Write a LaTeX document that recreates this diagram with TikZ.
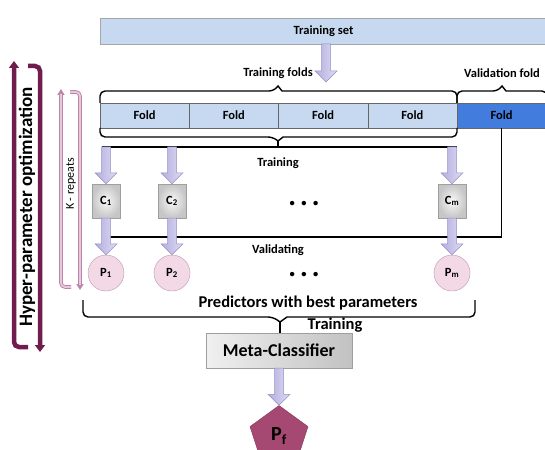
\documentclass[tikz,border=0pt]{standalone}
\usepackage{fontspec}
\setmainfont{Carlito}
\usetikzlibrary{calc,shapes.geometric,arrows.meta}

\definecolor{setblue}{RGB}{198,217,241}
\definecolor{valblue}{RGB}{66,125,222}
\definecolor{arrowL}{RGB}{180,174,222}
\definecolor{arrowR}{RGB}{222,219,244}
\definecolor{arrowD}{RGB}{150,144,196}
\definecolor{predpink}{RGB}{243,216,230}
\definecolor{predline}{RGB}{190,150,175}
\definecolor{plum}{RGB}{112,28,78}
\definecolor{finalplum}{RGB}{165,72,114}
\definecolor{kdark}{RGB}{185,135,168}
\definecolor{klight}{RGB}{234,198,222}

\tikzset{
  txt/.style={font=\fontsize{12.5}{14}\selectfont\bfseries},
  bigtxt/.style={font=\fontsize{16.5}{18}\selectfont\bfseries},
  dotstxt/.style={font=\fontsize{10.5}{12}\selectfont\bfseries},
  setbox/.style={draw=gray!70, fill=setblue, inner sep=0pt, txt},
  foldbox/.style={draw=gray!80!black, fill=setblue, minimum width=89.25pt,
    minimum height=25pt, inner sep=0pt, txt},
  cbox/.style={draw=gray!75, inner color=gray!5, outer color=gray!45,
    minimum width=28pt, minimum height=34pt, inner sep=0pt, txt},
  pcirc/.style={circle, draw=predline, fill=predpink, minimum size=36pt,
    inner sep=0pt, txt},
  bracket/.style={draw=black, line width=1.4pt},
  flowline/.style={draw=black, line width=1.2pt},
  fatarrow/.style={draw=arrowD, line width=0.5pt, left color=arrowL, right color=arrowR},
  hyperline/.style={draw=plum, line width=4.5pt, rounded corners=5pt},
  kouter/.style={draw=kdark, line width=3.6pt, rounded corners=4pt},
  kinner/.style={draw=klight, line width=1.8pt, rounded corners=4pt},
}

% thick lavender arrow, always pointing down
\newcommand{\blockarrow}[2]{%
  \path[fatarrow] let \p1=(#1), \p2=(#2) in
    (\x1-4.5pt,\y1) -- (\x1-4.5pt,\y2+11pt) -- (\x1-11pt,\y2+11pt) -- (\x1,\y2)
    -- (\x1+11pt,\y2+11pt) -- (\x1+4.5pt,\y2+11pt) -- (\x1+4.5pt,\y1) -- cycle;}

\begin{document}
\begin{tikzpicture}[x=1pt,y=-1pt]
\useasboundingbox (0,0) rectangle (545,449);
\clip (0,0) rectangle (545,449);

% training set and the folds
\node (trainset) [setbox, minimum width=447pt, minimum height=26pt] at (323.5,31) {Training set};
\foreach \i in {1,...,4}
  \node (fold\i) [foldbox] at ({100+89.25*(\i-0.5)},115.5) {Fold};
\node (valfold) [foldbox, fill=valblue] at (501.6,115.5) {Fold};

\node (trfolds) [txt] at (278,73) {Training folds};
\node (valfolds) [txt] at (502,73) {Validation fold};

% braces
\draw[bracket] (100,103) [rounded corners=5pt] -- (100,91) -- (274,91) [sharp corners]
  -- (278,86) -- (282,91) [rounded corners=5pt] -- (457,91) -- (457,103);
\draw[bracket] (457,103) [rounded corners=5pt] -- (457,91) -- (498,91) [sharp corners]
  -- (502,86) -- (506,91) [rounded corners=5pt] -- (547,91) -- (547,103);
\draw[bracket] (100,128) [rounded corners=5pt] -- (100,137) -- (273,137) [sharp corners]
  -- (278,141) -- (283,137) [rounded corners=5pt] -- (457,137) -- (457,128);
\draw[bracket] (278,141) -- (278,147);

% classifiers and predictors
\node (C1) [cbox] at (106,201) {C\textsubscript{1}};
\node (C2) [cbox] at (172,201) {C\textsubscript{2}};
\node (Cm) [cbox] at (452,201) {C\textsubscript{m}};
\node (P1) [pcirc] at (106,273) {P\textsubscript{1}};
\node (P2) [pcirc] at (172,273) {P\textsubscript{2}};
\node (Pm) [pcirc] at (452,273) {P\textsubscript{m}};
\node (cdots) [dotstxt] at (304,204)
  {\textbullet\hspace{6.5pt}\textbullet\hspace{6.5pt}\textbullet};
\node (pdots) [dotstxt] at (304,275)
  {\textbullet\hspace{6.5pt}\textbullet\hspace{6.5pt}\textbullet};

\node (trlbl) [txt] at (278,163) {Training};
\node (vallbl) [txt] at (278,250) {Validating};

\coordinate (tl1) at (106,147);
\coordinate (tl2) at (172,147);
\coordinate (tl3) at (452,147);
\coordinate (vleft) at (106,237);

\draw[flowline, shorten <=-4.5pt, shorten >=-4.5pt] (tl1) -- (tl3);
\draw[flowline] (valfold.south) |- (vleft);

% meta level
\node (predlbl) [bigtxt] at (308,303) {Predictors with best parameters};
\draw[bracket] (83,300) [rounded corners=5pt] -- (83,317) -- (273,317) [sharp corners]
  -- (280,322) -- (287,317) [rounded corners=5pt] -- (475,317) -- (475,300);
\node (metatr) [bigtxt] at (335,325) {Training};
\node (meta) [draw=gray!75, left color=gray!12, right color=gray!48, minimum width=146pt,
  minimum height=35pt, font=\fontsize{18}{20}\selectfont\bfseries] at (279,350.5) {Meta-Classifier};
\draw[bracket] (280,322) -- (meta.north -| 280,0);
\node (pf) [regular polygon, regular polygon sides=5, minimum size=61pt, inner sep=0pt,
  fill=finalplum, draw=finalplum!80!black, font=\fontsize{20}{22}\selectfont\bfseries]
  at (279,436) {P\textsubscript{f}};

% block arrows
\coordinate (setfrom) at (326,44);
\coordinate (setto) at (326,82);
\blockarrow{setfrom}{setto}
\blockarrow{tl1}{C1.north}
\blockarrow{tl2}{C2.north}
\blockarrow{tl3}{Cm.north}
\blockarrow{C1.south}{P1.north}
\blockarrow{C2.south}{P2.north}
\blockarrow{Cm.south}{Pm.north}
\blockarrow{meta.south}{pf.corner 1}

% loops on the left
\draw[hyperline, -{Triangle[width=10pt,length=7pt]}] (28,347) -- (14,347) -- (14,61);
\draw[hyperline, -{Triangle[width=10pt,length=7pt]}] (28,66) -- (40,66) -- (40,352);
\node (hyptxt) [rotate=90, font=\fontsize{19}{21}\selectfont\bfseries] at (27,207)
  {Hyper-parameter optimization};

\draw[kouter, -{Triangle[width=7pt,length=6pt]}] (71,287) -- (61,287) -- (61,89);
\draw[kinner, shorten >=5pt] (71,287) -- (61,287) -- (61,89);
\draw[kouter, -{Triangle[width=7pt,length=6pt]}] (70,92) -- (80,92) -- (80,290);
\draw[kinner, shorten >=5pt] (70,92) -- (80,92) -- (80,290);
\node (ktxt) [rotate=90, font=\fontsize{12}{14}\selectfont] at (71,184) {K - repeats};

\end{tikzpicture}
\end{document}
